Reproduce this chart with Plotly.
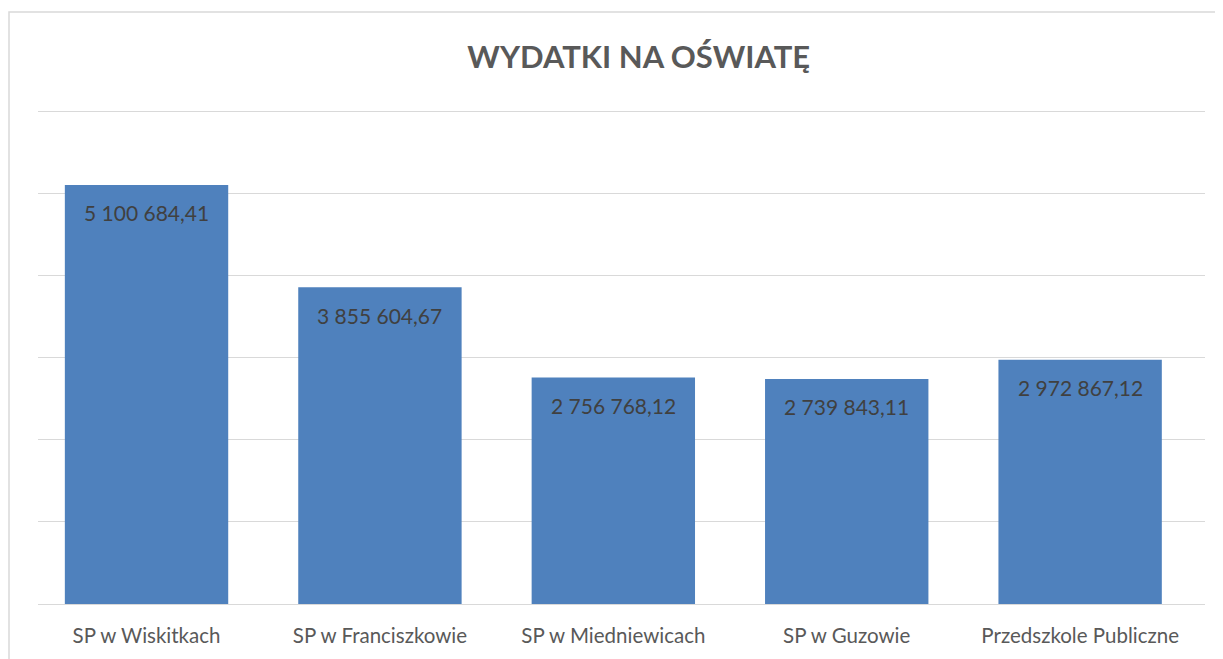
import plotly.graph_objects as go

categories = ["SP w Wiskitkach", "SP w Franciszkowie", "SP w Miedniewicach", "SP w Guzowie", "Przedszkole Publiczne"]
values = [5100684.41, 3855604.67, 2756768.12, 2739843.11, 2972867.12]
title_text = "WYDATKI NA OŚWIATĘ"


def fmt(v):
    s = f"{v:,.2f}"
    return s.replace(",", " ").replace(".", ",")


labels = [fmt(v) for v in values]
FONT = "Lato, Open Sans, Liberation Sans, sans-serif"

fig = go.Figure()
fig.add_trace(go.Bar(
    x=categories, y=values,
    marker=dict(color="#4f81bd", line=dict(width=0)),
    hoverinfo="skip",
))

for c, v, t in zip(categories, values, labels):
    fig.add_annotation(x=c, y=v, text=t, showarrow=False, yanchor="middle", yshift=-28,
                       font=dict(family=FONT, size=21, color="#404040"))

# page body has an 8px margin, so the figure is 8px smaller and shifted
W, H = 1215, 651
L, T = 30, 100
PR, PB = 1197, 596
R, B = W - PR, H - PB
pw, ph = PR - L, PB - T
ymax = 6000000 * ph / (PB - 103)

fig.update_layout(
    width=W, height=H,
    margin=dict(l=L, r=R, t=T, b=B),
    paper_bgcolor="white", plot_bgcolor="white",
    showlegend=False,
    bargap=0.3,
    title=dict(text=f"<b>{title_text}</b>", x=(633.5 - 8) / W, xref="paper", xanchor="center",
               y=1 - (57 - 8) / H, yanchor="middle",
               font=dict(family=FONT, size=31, color="#595959")),
    xaxis=dict(range=[-0.465, 4.535], showgrid=False, zeroline=False, showline=False,
               ticks="outside", ticklen=13, tickcolor="rgba(0,0,0,0)",
               tickfont=dict(family=FONT, size=20.5, color="#595959")),
    yaxis=dict(range=[0, ymax], dtick=1000000, showgrid=True, gridcolor="#d9d9d9", gridwidth=1.3,
               showticklabels=False, zeroline=True, zerolinecolor="#d9d9d9", zerolinewidth=1.3),
)

# outer frame (left and top edges visible)
fl = (1 - L) / pw
ft = 1 + (T - 4) / ph
fb = -(B + 10) / ph
fr = 1 + (R + 10) / pw
fig.add_shape(type="rect", xref="paper", yref="paper", x0=fl, x1=fr, y0=fb, y1=ft,
              line=dict(color="#d9d9d9", width=1.5), fillcolor="rgba(0,0,0,0)", layer="below")

fig.write_html("out.html")
